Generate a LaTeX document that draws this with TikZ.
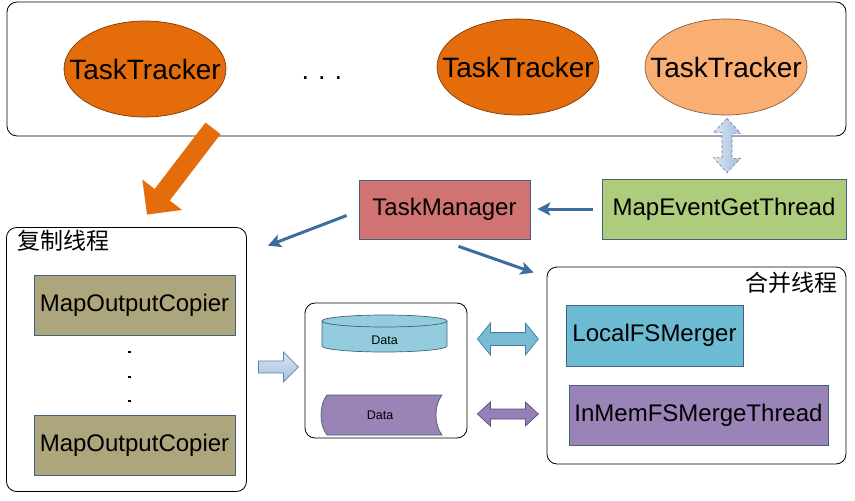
\documentclass[tikz,border=0pt]{standalone}
\usepackage{fontspec}
\setmainfont{Liberation Sans}
\newfontfamily\cjk{Noto Sans CJK SC}
\usetikzlibrary{arrows.meta,calc,shapes.geometric}
\definecolor{ttdark}{HTML}{E46C0A}
\definecolor{ttlight}{HTML}{F9AE72}
\definecolor{tmred}{HTML}{D07372}
\definecolor{megreen}{HTML}{AFCB7C}
\definecolor{mockhaki}{HTML}{ADA57C}
\definecolor{lfscyan}{HTML}{6DBBD2}
\definecolor{imfpurple}{HTML}{9A84B7}
\definecolor{cylcyan}{HTML}{93CDDD}
\definecolor{arrowblue}{HTML}{3D6C9F}
\definecolor{tealarrow}{HTML}{78BBD3}
\definecolor{tealedge}{HTML}{3F7FA3}
\definecolor{purparrow}{HTML}{9580B7}
\definecolor{purpedge}{HTML}{5E4C85}
\definecolor{boxedge}{HTML}{44607F}
\definecolor{palebluea}{HTML}{DCE6F2}
\definecolor{palebluer}{HTML}{A4BDDD}
\definecolor{paleedge}{HTML}{5F82AE}
\begin{document}
\begin{tikzpicture}[x=1pt,y=-1pt,
  container/.style={draw=black, line width=0.8pt, rounded corners=10pt, fill=white, inner sep=0pt},
  tracker/.style={ellipse, draw=#1!55!black, fill=#1, line width=0.7pt, minimum width=162pt, minimum height=96pt, inner xsep=-24pt, inner ysep=0pt, font=\fontsize{28}{31}\selectfont},
  colbox/.style={draw=boxedge, fill=#1, line width=0.7pt, inner sep=0pt, minimum height=60pt, font=\fontsize{24}{27}\selectfont},
  barrow/.style={draw=arrowblue, line width=3pt, -{Stealth[length=13pt,width=13pt,inset=3pt]}},
  datalabel/.style={font=\fontsize{12.5}{14}\selectfont, inner sep=0pt},
  cjklabel/.style={font=\cjk\fontsize{23}{26}\selectfont, inner sep=0pt}
]
\useasboundingbox (0,0) rectangle (855,501);

% containers
\node[container, minimum width=839pt, minimum height=134pt] (topbox) at (426.5,69) {};
\node[container, minimum width=240pt, minimum height=264pt] (copybox) at (126.5,359.5) {};
\node[container, minimum width=162pt, minimum height=135pt] (databox) at (386,370.5) {};
\node[container, minimum width=299pt, minimum height=197pt] (mergebox) at (696.5,365.5) {};

% task trackers
\node[tracker=ttdark] (tt1) at (145,69) {TaskTracker};
\node[font=\fontsize{27}{30}\selectfont, inner sep=0pt, anchor=base] (ttdots) at (322,79) {.\,\,.\,\,.};
\node[tracker=ttdark] (tt2) at (518,67) {TaskTracker};
\node[tracker=ttlight] (tt3) at (726,67) {TaskTracker};

% managers
\node[colbox=tmred, minimum width=171pt, minimum height=59pt] (tm) at (444.5,209.5) {TaskManager};
\node[colbox=megreen, minimum width=244pt] (meg) at (724,209) {MapEventGetThread};

% copier thread
\node[cjklabel, anchor=west] (copylabel) at ($(copybox.north west)+(11,14)$) {复制线程};
\node[colbox=mockhaki, minimum width=201pt] (moc1) at (134.5,305.5) {MapOutputCopier};
\node[colbox=mockhaki, minimum width=201pt] (moc2) at (134.5,445) {MapOutputCopier};
\foreach \dy in {15,40,64} {
  \fill ($(moc1.south)+(-6.5,\dy)$) rectangle ++(2.5,2.5);
}

% merge thread
\node[cjklabel, anchor=east] (mergelabel) at ($(mergebox.north east)+(-9,16)$) {合并线程};
\node[colbox=lfscyan, minimum width=177pt, minimum height=61pt] (lfs) at (654.5,335.5) {LocalFSMerger};
\node[colbox=imfpurple, minimum width=259pt] (imf) at (698.5,415) {InMemFSMergeThread};

% data store shapes
\fill[cylcyan] (322,321) -- (322,346) arc[start angle=180, end angle=0, x radius=62.5, y radius=6] -- (447,321) -- cycle;
\draw[boxedge, line width=0.7pt] (322,321) -- (322,346) arc[start angle=180, end angle=0, x radius=62.5, y radius=6] -- (447,321);
\draw[boxedge, line width=0.7pt, fill=cylcyan] (384.5,321) ellipse[x radius=62.5, y radius=6];
\node[datalabel] (data1) at (384.5,340) {Data};
\draw[boxedge, line width=0.7pt, fill=imfpurple] (327,395) -- (442,395) .. controls (434,405) and (434,425) .. (442,435) -- (327,435) .. controls (319,425) and (319,405) .. (327,395) -- cycle;
\node[datalabel] (data2) at (380,415) {Data};

% orange big arrow
\coordinate (oT) at ($(tt1.south)+(68,11)$);
\coordinate (oP) at ($(copybox.north)+(20.5,-12.5)$);
\coordinate (oM) at ($(oP)!25pt!(oT)$);
\fill[ttdark] ($(oT)!9.5pt!90:(oP)$) -- ($(oM)!9.5pt!-90:(oT)$) -- ($(oM)!25pt!-90:(oT)$) -- (oP)
  -- ($(oM)!25pt!90:(oT)$) -- ($(oM)!9.5pt!90:(oT)$) -- ($(oT)!9.5pt!-90:(oP)$) -- cycle;

% pale vertical double arrow between tt3 and meg
\coordinate (vA) at ($(tt3.south)+(1,3)$);
\coordinate (vB) at ($(meg.north)+(3,-6)$);
\draw[paleedge, densely dashed, line width=0.6pt, left color=palebluea, right color=palebluer]
  (vA) -- ++(13.5,15) -- ++(-8.5,0) -- ++(0,25) -- ++(8.5,0) -- (vB)
  -- ++(-13.5,-15) -- ++(8.5,0) -- ++(0,-25) -- ++(-8.5,0) -- cycle;

% thin blue arrows
\draw[barrow, shorten <=9pt, shorten >=7pt] (meg.west) -- (tm.east |- meg.west);
\draw[barrow] ($(tm.west)+(-12,6)$) -- ($(copybox.north east)+(21,18.5)$);
\draw[barrow] ($(tm.south)+(14,7)$) -- ($(mergebox.north west)+(-13,6)$);

% hollow arrow copybox -> databox
\coordinate (hA) at ($(copybox.east |- databox.west)+(11.5,-3.5)$);
\draw[paleedge, line width=0.7pt, top color=palebluea, bottom color=palebluer]
  (hA) -- ++(0,-6) -- ++(25,0) -- ++(0,-9) -- ++(15,15) -- ++(-15,15) -- ++(0,-9) -- ++(-25,0) -- cycle;

% teal double arrow databox <-> lfs
\coordinate (tA) at ($(databox.east |- lfs.west)+(10,3.5)$);
\draw[tealedge, line width=0.7pt, fill=tealarrow]
  (tA) -- ++(13,-16) -- ++(0,9.5) -- ++(35,0) -- ++(0,-9.5) -- ++(13,16)
  -- ++(-13,16) -- ++(0,-9.5) -- ++(-35,0) -- ++(0,9.5) -- cycle;

% purple double arrow databox <-> imf
\coordinate (pA) at ($(databox.east |- imf.west)+(10,-1)$);
\draw[purpedge, line width=0.7pt, fill=purparrow]
  (pA) -- ++(13,-12) -- ++(0,7) -- ++(35,0) -- ++(0,-7) -- ++(13,12)
  -- ++(-13,12) -- ++(0,-7) -- ++(-35,0) -- ++(0,7) -- cycle;
\end{tikzpicture}
\end{document}
